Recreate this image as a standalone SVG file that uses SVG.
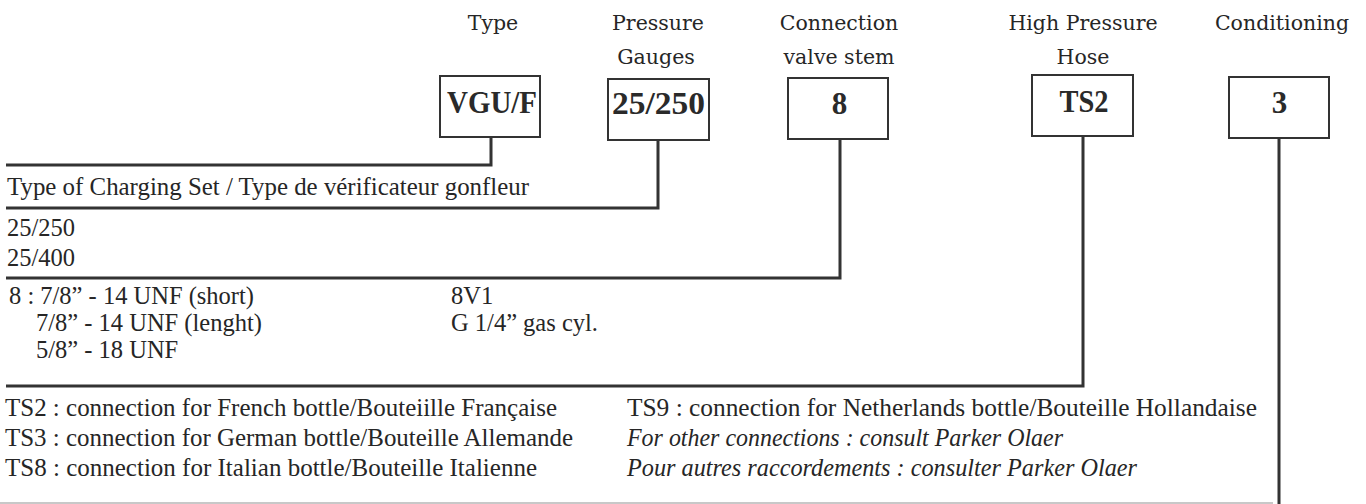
<svg xmlns="http://www.w3.org/2000/svg" width="1366" height="504" viewBox="0 0 1366 504">
<style>
.hdr{font-family:"DejaVu Serif","Liberation Serif",serif;font-size:20.5px;fill:#262626;text-anchor:middle}
.box{fill:#fff;stroke:#333;stroke-width:2}
.code{font-family:"Liberation Serif",serif;font-weight:bold;font-size:31px;fill:#2a2a2a;text-anchor:middle}
.conn{fill:none;stroke:#333;stroke-width:3}
.faint{fill:none;stroke:#c8c8c8;stroke-width:2}
.t{font-family:"Liberation Serif","Times New Roman",serif;font-size:24.5px;fill:#262626}
.it{font-style:italic}
</style>
<rect width="1366" height="504" fill="#fff"/>
<g id="connectors">
<polyline class="conn" points="491,137 491,165 6,165"/>
<polyline class="conn" points="658,140 658,208 6,208"/>
<polyline class="conn" points="840,139 840,278 6,278"/>
<polyline class="conn" points="1083,136 1083,386 6,386"/>
<polyline class="conn" points="1279,138 1279,504"/>
<line class="faint" x1="0" y1="503" x2="1273" y2="503"/>
</g>
<g id="node-type">
<text class="hdr" x="493" y="30">Type</text>
<rect class="box" x="440" y="76" width="100" height="61"/>
<text class="code" x="492" y="113" textLength="90" lengthAdjust="spacingAndGlyphs">VGU/F</text>
</g>
<g id="node-gauges">
<text class="hdr" x="658" y="30">Pressure</text>
<text class="hdr" x="656" y="64">Gauges</text>
<rect class="box" x="608" y="79" width="101" height="61"/>
<text class="code" x="658.5" y="114" textLength="93" lengthAdjust="spacingAndGlyphs">25/250</text>
</g>
<g id="node-valve">
<text class="hdr" x="839" y="30">Connection</text>
<text class="hdr" x="839" y="64">valve stem</text>
<rect class="box" x="788" y="78" width="100" height="61"/>
<text class="code" x="839.5" y="114">8</text>
</g>
<g id="node-hose">
<text class="hdr" x="1083" y="30">High Pressure</text>
<text class="hdr" x="1083" y="64">Hose</text>
<rect class="box" x="1032" y="75" width="101" height="61"/>
<text class="code" x="1084" y="112" textLength="49" lengthAdjust="spacingAndGlyphs">TS2</text>
</g>
<g id="node-conditioning">
<text class="hdr" x="1282" y="30">Conditioning</text>
<rect class="box" x="1229" y="77" width="100" height="61"/>
<text class="code" x="1279.5" y="113">3</text>
</g>
<g id="legend">
<text class="t" x="7" y="195" textLength="522" lengthAdjust="spacingAndGlyphs">Type of Charging Set / Type de vérificateur gonfleur</text>
<text class="t" x="7" y="236">25/250</text>
<text class="t" x="7" y="266">25/400</text>
<text class="t" x="9" y="304">8 : 7/8” - 14 UNF (short)</text>
<text class="t" x="36" y="331">7/8” - 14 UNF (lenght)</text>
<text class="t" x="36" y="358">5/8” - 18 UNF</text>
<text class="t" x="451" y="304">8V1</text>
<text class="t" x="451" y="331">G 1/4” gas cyl.</text>
<text class="t" x="5" y="416" textLength="552" lengthAdjust="spacingAndGlyphs">TS2 : connection for French bottle/Bouteiille Française</text>
<text class="t" x="5" y="446" textLength="568" lengthAdjust="spacingAndGlyphs">TS3 : connection for German bottle/Bouteille Allemande</text>
<text class="t" x="5" y="476" textLength="532" lengthAdjust="spacingAndGlyphs">TS8 : connection for Italian bottle/Bouteille Italienne</text>
<text class="t" x="627" y="416" textLength="630" lengthAdjust="spacingAndGlyphs">TS9 : connection for Netherlands bottle/Bouteille Hollandaise</text>
<text class="t it" x="627" y="446" textLength="436" lengthAdjust="spacingAndGlyphs">For other connections : consult Parker Olaer</text>
<text class="t it" x="627" y="476" textLength="510" lengthAdjust="spacingAndGlyphs">Pour autres raccordements : consulter Parker Olaer</text>
</g>
</svg>
